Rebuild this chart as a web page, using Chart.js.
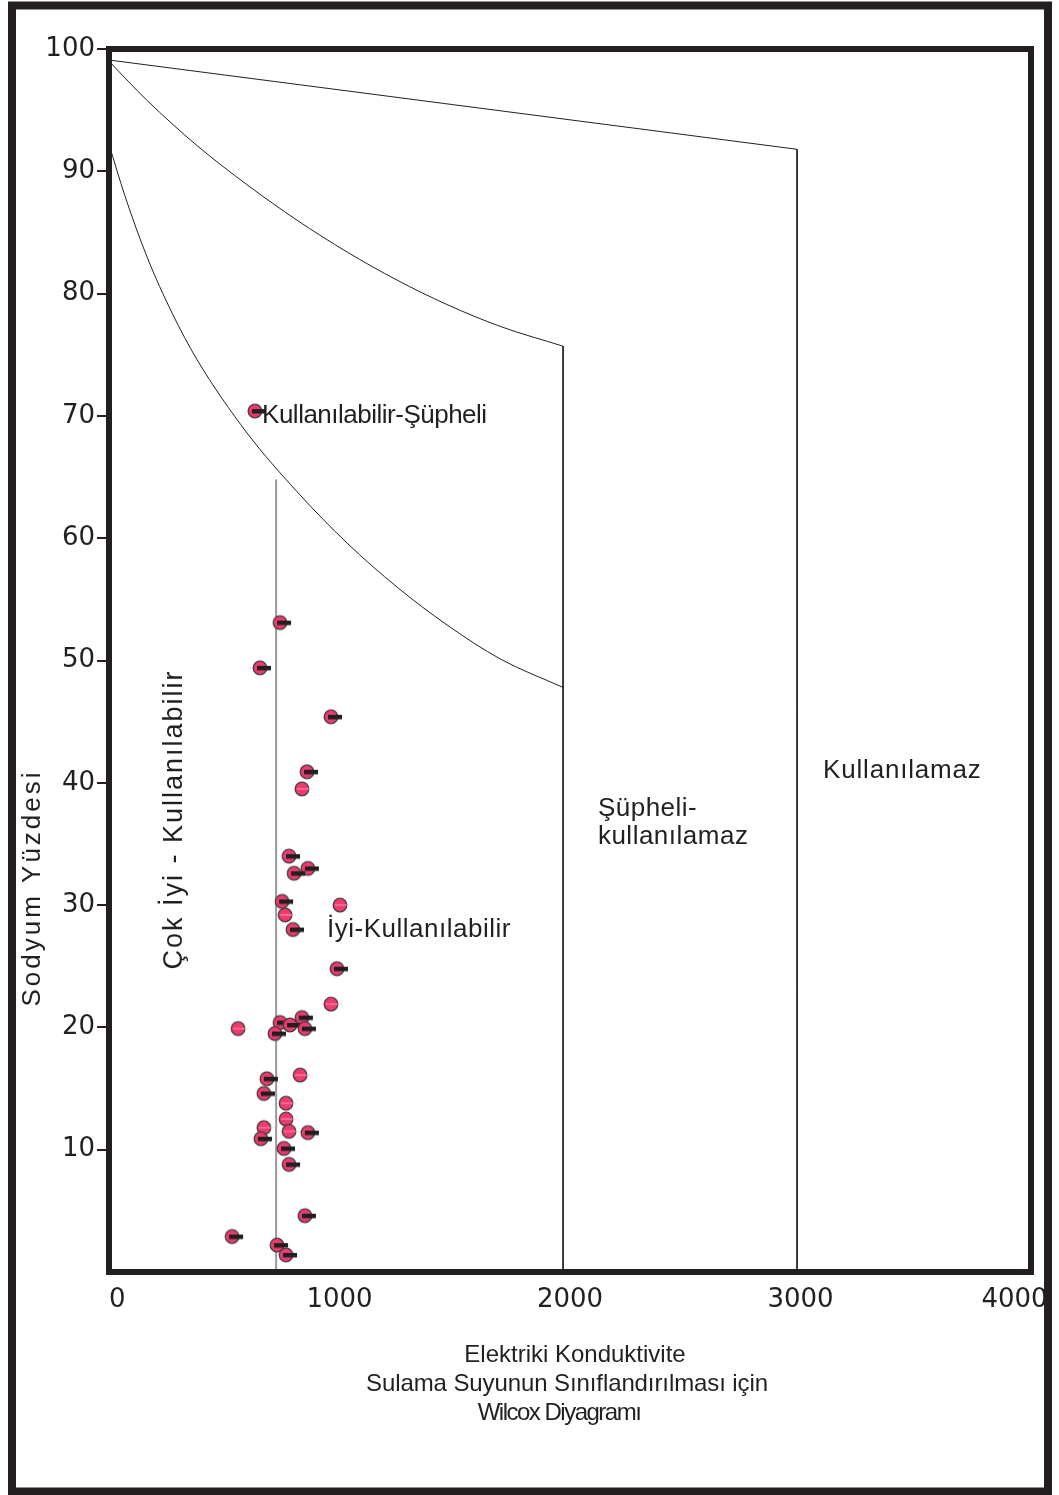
<!DOCTYPE html>
<html>
<head>
<meta charset="utf-8">
<title>Wilcox Diyagramı</title>
<script src="https://cdn.jsdelivr.net/npm/chart.js@4.4.1/dist/chart.umd.min.js"></script>
<style>
  html, body { margin: 0; padding: 0; background: #fff; }
  canvas { display: block; }
</style>
</head>
<body>
<canvas id="wilcox" width="1059" height="1495"></canvas>
<script>
// sample values (EC, sodium %)
const sampleEC = [742, 655, 963, 859, 837, 781, 863, 803, 751, 1002, 764, 798,
  989, 963, 837, 742, 785, 560, 850, 720, 829, 685, 672, 768, 768, 672, 781,
  863, 659, 759, 781, 850, 534, 729, 768, 633];
const sampleNa = [53.1, 49.4, 45.4, 40.9, 39.5, 34.0, 33.0, 32.6, 30.3, 30.0, 29.2, 28.0,
  24.8, 21.9, 20.8, 20.4, 20.2, 19.9, 19.9, 19.5, 16.1, 15.8, 14.6, 13.8, 12.5, 11.8, 11.5,
  11.4, 10.9, 10.1, 8.8, 4.6, 2.9, 2.2, 1.4, 70.4];
// 1 = marker drawn with the black bar
const sampleBar = [1, 1, 1, 1, 0, 1, 1, 1, 1, 0, 0, 1,
  1, 0, 1, 1, 1, 0, 1, 1, 0, 1, 1, 0, 0, 0, 0,
  1, 1, 1, 1, 1, 1, 1, 1, 1];

const xTicks = [0, 1000, 2000, 3000, 4000];
const yTicks = [10, 20, 30, 40, 50, 60, 70, 80, 90, 100];

// class boundaries
const topLineX = [0, 2985];
const topLineY = [99.1, 91.8];
const midCurveX = [0, 165, 382, 599, 816, 1033, 1250, 1467, 1700, 1970];
const midCurveY = [99.0, 95.8, 92.1, 88.9, 86.0, 83.4, 81.1, 79.1, 77.3, 75.7];
const lowCurveX = [0, 69, 165, 274, 382, 599, 816, 1033, 1250, 1467, 1700, 1970];
const lowCurveY = [92.2, 88.0, 83.0, 78.4, 74.6, 68.6, 63.8, 59.6, 56.0, 52.9, 50.1, 47.8];
const wall750X = [725, 725];
const wall750Y = [64.8, 0];
const wall2000X = [1970, 1970];
const wall2000Y = [75.7, 0];
const wall3000X = [2985, 2985];
const wall3000Y = [91.8, 0];

const ink = '#231f20';

function pts(xs, ys) {
  return xs.map((v, i) => ({ x: v, y: ys[i] }));
}

function makeMarker(withBar) {
  const c = document.createElement('canvas');
  c.width = 30; c.height = 18;
  const g = c.getContext('2d');
  g.beginPath();
  g.arc(15, 9, 6.8, 0, Math.PI * 2);
  g.fillStyle = '#ee3a6e';
  g.fill();
  g.lineWidth = 1.3;
  g.strokeStyle = '#4a3b3f';
  g.stroke();
  if (withBar) {
    g.fillStyle = ink;
    g.fillRect(12, 7, 14, 4.5);
  } else {
    g.strokeStyle = 'rgba(255,190,210,0.9)';
    g.lineWidth = 0.8;
    g.beginPath();
    g.moveTo(10, 9);
    g.lineTo(26, 9);
    g.stroke();
  }
  return c;
}

const barPts = [], plainPts = [];
sampleEC.forEach((v, i) => {
  (sampleBar[i] ? barPts : plainPts).push({ x: v, y: sampleNa[i] });
});

function boundary(xs, ys, color, width, curved) {
  return {
    data: pts(xs, ys),
    showLine: true,
    borderColor: color,
    borderWidth: width,
    pointRadius: 0,
    fill: false,
    cubicInterpolationMode: curved ? 'monotone' : 'default',
    order: 2
  };
}

const zoneLabels = [
  { text: 'Kullanılabilir-Şüpheli', x: 664, y: 70.0, spacing: -0.5 },
  { text: 'İyi-Kullanılabilir', x: 946, y: 28.0, spacing: 0.5 },
  { text: 'Şüpheli-', x: 2121, y: 37.9, spacing: 0.5 },
  { text: 'kullanılamaz', x: 2121, y: 35.6, spacing: 0.5 },
  { text: 'Kullanılamaz', x: 3098, y: 41.0, spacing: 0.8 }
];

const decor = {
  id: 'decor',
  afterDatasetsDraw(chart) {
    const { ctx, chartArea: a, scales: { x, y } } = chart;
    ctx.save();
    ctx.fillStyle = ink;
    ctx.textBaseline = 'middle';

    ctx.font = '26px "Liberation Sans", Arial, sans-serif';
    ctx.textAlign = 'left';
    zoneLabels.forEach(l => {
      ctx.letterSpacing = l.spacing + 'px';
      ctx.fillText(l.text, x.getPixelForValue(l.x), y.getPixelForValue(l.y));
    });

    // vertical labels
    ctx.textAlign = 'center';
    ctx.save();
    ctx.translate(x.getPixelForValue(286), y.getPixelForValue(37.0));
    ctx.rotate(-Math.PI / 2);
    ctx.font = '27px "Liberation Sans", Arial, sans-serif';
    ctx.letterSpacing = '2px';
    ctx.fillText('Çok İyi - Kullanılabilir', 0, 0);
    ctx.restore();

    ctx.save();
    ctx.translate(33, 888);
    ctx.rotate(-Math.PI / 2);
    ctx.font = '26px "Liberation Sans", Arial, sans-serif';
    ctx.letterSpacing = '3px';
    ctx.fillText('Sodyum Yüzdesi', 0, 0);
    ctx.restore();

    // caption under the x axis
    ctx.font = '24px "Liberation Sans", Arial, sans-serif';
    ctx.letterSpacing = '0px';
    ctx.fillText('Elektriki Konduktivite', 575, 1355);
    ctx.letterSpacing = '-0.1px';
    ctx.fillText('Sulama Suyunun Sınıflandırılması için', 567, 1384);
    ctx.letterSpacing = '-1.5px';
    ctx.fillText('Wilcox Diyagramı', 559, 1413);
    ctx.letterSpacing = '0px';

    // frames
    ctx.strokeStyle = ink;
    ctx.lineWidth = 6;
    ctx.strokeRect(a.left, a.top, a.right - a.left, a.bottom - a.top);
    ctx.lineWidth = 8;
    ctx.strokeRect(12, 5.5, 1036, 1486);
    ctx.restore();
  }
};

new Chart(document.getElementById('wilcox'), {
  type: 'scatter',
  data: {
    datasets: [
      boundary(topLineX, topLineY, ink, 1, false),
      boundary(midCurveX, midCurveY, ink, 1, true),
      boundary(lowCurveX, lowCurveY, ink, 1, true),
      boundary(wall750X, wall750Y, '#9a9a9a', 2, false),
      boundary(wall2000X, wall2000Y, ink, 1, false),
      boundary(wall3000X, wall3000Y, ink, 1, false),
      {
        data: plainPts,
        pointStyle: makeMarker(false),
        pointRadius: 7,
        order: 1
      },
      {
        data: barPts,
        pointStyle: makeMarker(true),
        pointRadius: 7,
        order: 0
      }
    ]
  },
  options: {
    responsive: false,
    animation: false,
    devicePixelRatio: 1,
    layout: { padding: { top: 49, right: 28, left: 0, bottom: 0 } },
    plugins: {
      legend: { display: false },
      tooltip: { enabled: false }
    },
    scales: {
      x: {
        type: 'linear',
        min: 0,
        max: 4000,
        afterBuildTicks: s => { s.ticks = xTicks.map(v => ({ value: v })); },
        afterFit: s => { s.height = 223; s.paddingLeft = 0; s.paddingRight = 0; },
        grid: { display: false, drawTicks: false },
        border: { display: false },
        ticks: {
          color: ink,
          padding: 13,
          maxRotation: 0,
          autoSkip: false,
          // nudge the end labels the way the original sits
          callback: v => v === 0 ? '  0' : v === 4000 ? '4000    ' : String(v),
          font: { family: '"DejaVu Sans", sans-serif', size: 26 }
        }
      },
      y: {
        type: 'linear',
        min: 0,
        max: 100,
        afterBuildTicks: s => { s.ticks = yTicks.map(v => ({ value: v })); },
        afterFit: s => { s.width = 109; },
        grid: {
          drawOnChartArea: false,
          drawTicks: true,
          tickLength: 12,
          color: ink,
          lineWidth: 2
        },
        border: { display: false },
        ticks: {
          color: ink,
          padding: 2,
          autoSkip: false,
          callback: v => String(v),
          font: { family: '"DejaVu Sans", sans-serif', size: 26 }
        }
      }
    }
  },
  plugins: [decor]
});
</script>
</body>
</html>
